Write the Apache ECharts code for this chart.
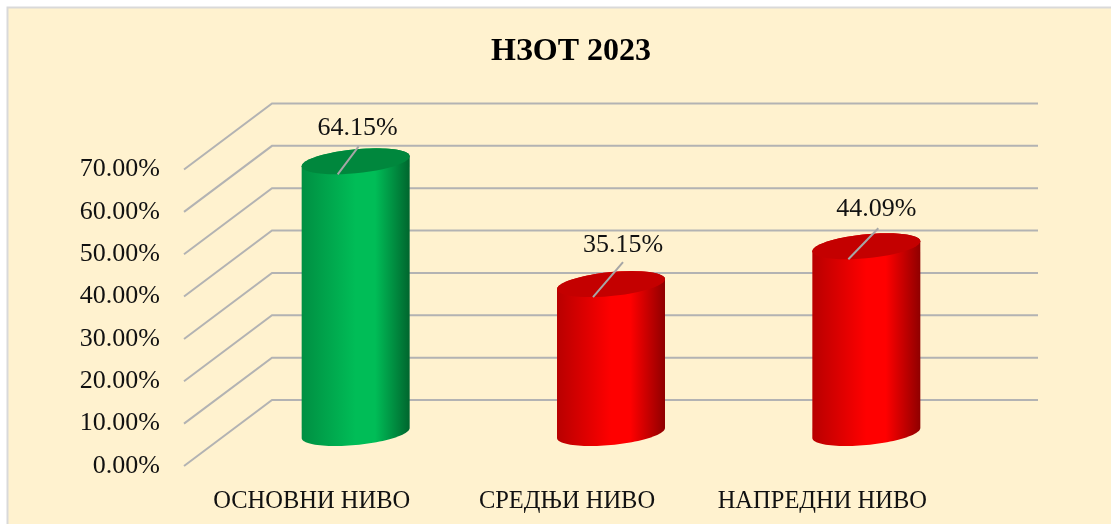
<!DOCTYPE html>
<html>
<head>
<meta charset="utf-8">
<title>НЗОТ 2023</title>
<style>
  html, body { margin: 0; padding: 0; background: #fff; }
  #chart { width: 1111px; height: 524px; }
</style>
<script src="https://cdn.jsdelivr.net/npm/echarts@6/dist/echarts.min.js"></script>
</head>
<body>
<div id="chart"></div>
<script>
const categories = ['ОСНОВНИ НИВО', 'СРЕДЊИ НИВО', 'НАПРЕДНИ НИВО'];
const values = [64.15, 35.15, 44.09];
const gridTicks = [0, 10, 20, 30, 40, 50, 60, 70];

// look of each cylinder: edge, centre, right edge, cap
const green = ['#008f42', '#00bd57', '#00662e', '#00873d'];
const red = ['#b80000', '#ff0000', '#8f0000', '#c40000'];
const cylinderColors = [green, red, red];
// label position relative to the middle of the cap
const labelOffsets = [[2, -33], [12, -39], [10, -37]];
const leaderEnds = [[3, -15], [12, -22], [12, -18]];

const FONT = '"Liberation Serif", "Times New Roman", serif';
const DEPTH_X = 88, DEPTH_Y = -66; // floor depth of the 3d box
const RX = 54, RY = 12, SKEW = -5; // cap ellipse

const chart = echarts.init(document.getElementById('chart'));

function ellipsePoint(cx, cy, t) {
  return [cx + RX * Math.cos(t), cy + RY * Math.sin(t) + SKEW * Math.cos(t)];
}

function arc(cx, cy, from, to) {
  const pts = [];
  for (let i = 0; i <= 48; i++) {
    pts.push(ellipsePoint(cx, cy, from + (to - from) * i / 48));
  }
  return pts;
}

function renderGridLine(params, api) {
  const box = params.coordSys;
  const y = api.coord([0, api.value(1)])[1];
  return {
    type: 'polyline',
    silent: true,
    shape: { points: [[box.x, y], [box.x + DEPTH_X, y + DEPTH_Y], [box.x + box.width + DEPTH_X, y + DEPTH_Y]] },
    style: { fill: 'none', stroke: '#b3b3b3', lineWidth: 2 }
  };
}

function renderCylinder(params, api) {
  const i = params.dataIndex;
  const base = api.coord([api.value(0), 0]);
  const top = api.coord([api.value(0), api.value(1)]);
  const cx = top[0] + DEPTH_X / 2;
  const topY = top[1] + DEPTH_Y / 2;
  const baseY = base[1] + DEPTH_Y / 2;
  const c = cylinderColors[i];
  const off = labelOffsets[i];
  const end = leaderEnds[i];

  // left side of the cap, over to the right, then round the bottom ellipse
  const body = arc(cx, topY, Math.PI, 2 * Math.PI).concat(arc(cx, baseY, 0, Math.PI));
  const cap = arc(cx, topY, 0, 2 * Math.PI);

  return {
    type: 'group',
    children: [
      {
        type: 'polygon',
        shape: { points: body },
        style: {
          fill: new echarts.graphic.LinearGradient(0, 0, 1, 0, [
            { offset: 0, color: c[0] },
            { offset: 0.5, color: c[1] },
            { offset: 0.68, color: c[1] },
            { offset: 1, color: c[2] }
          ])
        }
      },
      {
        type: 'polygon',
        shape: { points: cap },
        style: { fill: c[3] }
      },
      {
        type: 'line',
        shape: { x1: cx - 18, y1: topY + 13, x2: cx + end[0], y2: topY + end[1] },
        style: { stroke: '#a6a6a6', lineWidth: 2 }
      },
      {
        type: 'text',
        style: {
          text: api.value(1).toFixed(2) + '%',
          x: cx + off[0],
          y: topY + off[1],
          align: 'center',
          verticalAlign: 'middle',
          fill: '#111',
          font: '26px ' + FONT
        }
      }
    ]
  };
}

chart.setOption({
  animation: false,
  backgroundColor: '#ffffff',
  title: {
    text: 'НЗОТ 2023',
    left: 566,
    top: 31,
    textAlign: 'center',
    textStyle: { fontFamily: FONT, fontSize: 32, fontWeight: 'bold', color: '#000' }
  },
  graphic: [{
    type: 'rect',
    z: -10,
    silent: true,
    shape: { x: 7.5, y: 7.5, width: 1112, height: 525 },
    style: { fill: '#fff2cf', stroke: '#d9d9d9', lineWidth: 2 }
  }],
  grid: { left: 184, top: 169.5, width: 766, height: 296.5 },
  xAxis: {
    type: 'category',
    data: categories,
    axisLine: { show: false },
    axisTick: { show: false },
    axisLabel: { margin: 23, fontFamily: FONT, fontSize: 24.5, color: '#111', interval: 0 }
  },
  yAxis: {
    type: 'value',
    min: 0,
    max: 70,
    interval: 10,
    axisLine: { show: false },
    axisTick: { show: false },
    splitLine: { show: false },
    axisLabel: {
      margin: 24,
      fontFamily: FONT,
      fontSize: 26,
      color: '#111',
      formatter: function (v) { return v.toFixed(2) + '%'; }
    }
  },
  series: [
    {
      type: 'custom',
      z: 1,
      clip: false,
      silent: true,
      renderItem: renderGridLine,
      data: gridTicks.map(function (t) { return [0, t]; })
    },
    {
      type: 'custom',
      z: 2,
      clip: false,
      renderItem: renderCylinder,
      data: values.map(function (v, i) { return [i, v]; })
    }
  ]
});
</script>
</body>
</html>
